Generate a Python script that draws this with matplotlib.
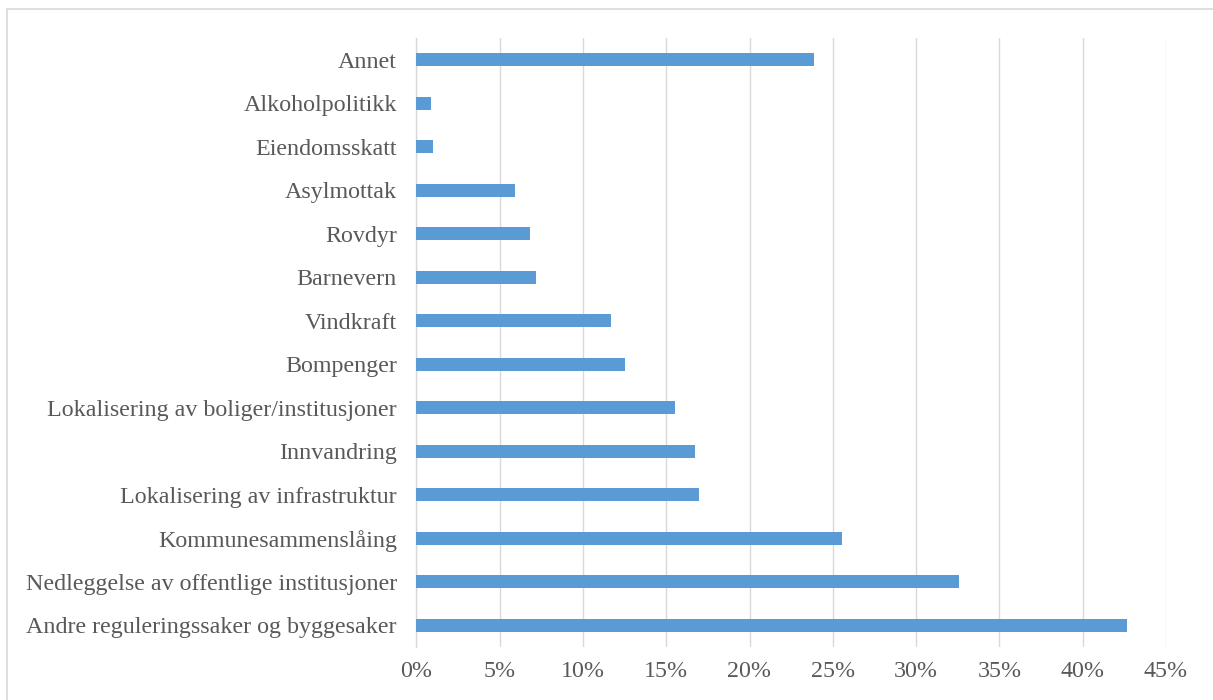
import matplotlib
matplotlib.use("Agg")
import matplotlib.pyplot as plt
from matplotlib.patches import Rectangle

categories = [
    "Andre reguleringssaker og byggesaker",
    "Nedleggelse av offentlige institusjoner",
    "Kommunesammenslåing",
    "Lokalisering av infrastruktur",
    "Innvandring",
    "Lokalisering av boliger/institusjoner",
    "Bompenger",
    "Vindkraft",
    "Barnevern",
    "Rovdyr",
    "Asylmottak",
    "Eiendomsskatt",
    "Alkoholpolitikk",
    "Annet",
]
values = [42.65, 32.6, 25.55, 16.95, 16.7, 15.5, 12.55, 11.7, 7.2, 6.8, 5.9, 1.0, 0.9, 23.85]
xticks = [0, 5, 10, 15, 20, 25, 30, 35, 40, 45]

plt.rcParams['font.family'] = ['Liberation Serif', 'DejaVu Serif']
fig = plt.figure(figsize=(12.13, 7.0), dpi=100)
W, H = 1213, 700
ax = fig.add_axes([416.3 / W, 1 - 647 / H, (1166 - 416.3) / W, (647 - 38) / H])

ypos = list(range(len(categories)))
ax.barh(ypos, values, height=0.3, color="#5B9BD5", zorder=3)
ax.set_xlim(0, 45)
ax.set_ylim(-0.5, len(categories) - 0.5)
ax.set_yticks(ypos)
ax.set_yticklabels(categories)
ax.set_xticks(xticks)
ax.set_xticklabels([f"{t}%" for t in xticks])
ax.grid(axis="x", color="#D9D9D9", linewidth=1.0, zorder=0)
for s in ["top", "right", "bottom"]:
    ax.spines[s].set_visible(False)
ax.spines["left"].set_color("#D9D9D9")
ax.spines["left"].set_linewidth(1.0)
ax.tick_params(axis="both", length=0, labelsize=17.3, labelcolor="#595959")
ax.tick_params(axis="y", pad=14)
ax.tick_params(axis="x", pad=10)

fig.patches.append(Rectangle((7 / W, -0.1), 1.2, 1 - 9 / H + 0.1, transform=fig.transFigure,
                             fill=False, edgecolor="#D9D9D9", linewidth=1.2))
fig.savefig("out.png", dpi=100)
